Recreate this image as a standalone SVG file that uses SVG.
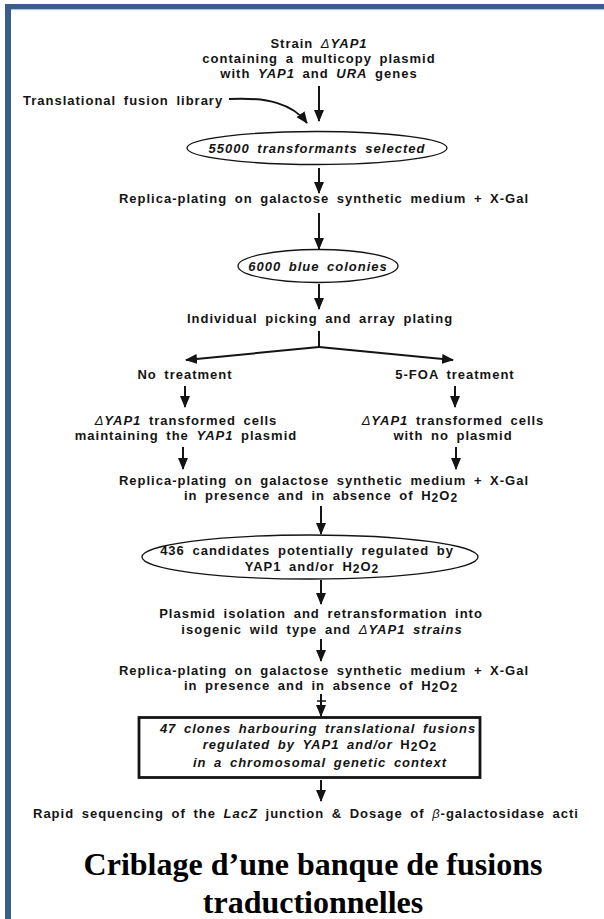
<svg xmlns="http://www.w3.org/2000/svg" width="604" height="919" viewBox="0 0 604 919">
<style>
.t{font-family:"Liberation Sans",Arial,sans-serif;font-weight:bold;font-size:13px;letter-spacing:1px;word-spacing:3px;fill:#141414;text-anchor:middle}
.i{font-style:italic}
.d{font-weight:normal;font-style:italic}
.ln{stroke:#141414;stroke-width:2;fill:none}
.sh{fill:none;stroke:#141414;stroke-width:1.3}
.title{font-family:"Liberation Serif","Times New Roman",serif;font-weight:bold;font-size:32px;fill:#000;text-anchor:middle}
</style>
<defs>
<marker id="ah" viewBox="0 0 12 10" refX="11" refY="5" markerWidth="12" markerHeight="10" markerUnits="userSpaceOnUse" orient="auto">
<path d="M0,0 L12,5 L0,10 z" fill="#141414"/>
</marker>
</defs>
<rect width="604" height="919" fill="#fff"/>
<g id="frame">
<rect x="5" y="4" width="599" height="5" fill="#3b5d8c"/>
<rect x="5" y="4" width="6" height="915" fill="#3b5d8c"/>
<rect x="11" y="9" width="593" height="1.2" fill="#b4c6de"/>
</g>
<g id="connectors">
<path class="ln" d="M319,86 V121" marker-end="url(#ah)"/>
<path class="ln" d="M229,99 C268,97 293,104 307,123" marker-end="url(#ah)"/>
<path class="ln" d="M319,168 V193" marker-end="url(#ah)"/>
<path class="ln" d="M319,213 V249" marker-end="url(#ah)"/>
<path class="ln" d="M319,284 V309" marker-end="url(#ah)"/>
<path class="ln" d="M319,331 V347"/>
<path class="ln" d="M319,347 L186,360" marker-end="url(#ah)"/>
<path class="ln" d="M319,347 L453,360" marker-end="url(#ah)"/>
<path class="ln" d="M185,386 V407" marker-end="url(#ah)"/>
<path class="ln" d="M455,386 V407" marker-end="url(#ah)"/>
<path class="ln" d="M183,447 V469" marker-end="url(#ah)"/>
<path class="ln" d="M456,447 V469" marker-end="url(#ah)"/>
<path class="ln" d="M321,506 V534" marker-end="url(#ah)"/>
<path class="ln" d="M321,580 V604" marker-end="url(#ah)"/>
<path class="ln" d="M321,639 V661" marker-end="url(#ah)"/>
<path class="ln" d="M321,694 V716" marker-end="url(#ah)"/>
<path d="M317,701 H326" stroke="#141414" stroke-width="1.5"/>
<path class="ln" d="M321,780 V801" marker-end="url(#ah)"/>
</g>
<g id="start">
<text class="t" x="319" y="48">Strain <tspan class="d">Δ</tspan><tspan class="i">YAP1</tspan></text>
<text class="t" x="319" y="63">containing a multicopy plasmid</text>
<text class="t" x="319" y="78">with <tspan class="i">YAP1</tspan> and <tspan class="i">URA</tspan> genes</text>
</g>
<g id="library">
<text class="t" x="23" y="105" style="text-anchor:start">Translational fusion library</text>
</g>
<g id="transformants">
<ellipse class="sh" cx="317" cy="148" rx="130" ry="16.5"/>
<text class="t i" x="317" y="153">55000 transformants selected</text>
</g>
<g id="replica1">
<text class="t" x="324" y="203">Replica-plating on galactose synthetic medium + X-Gal</text>
</g>
<g id="blue">
<ellipse class="sh" cx="318" cy="266" rx="80" ry="16.5"/>
<text class="t i" x="318" y="271">6000 blue colonies</text>
</g>
<g id="picking">
<text class="t" x="320" y="323">Individual picking and array plating</text>
</g>
<g id="notreat">
<text class="t" x="185" y="379">No treatment</text>
</g>
<g id="foa">
<text class="t" x="455" y="379">5-FOA treatment</text>
</g>
<g id="maintain">
<text class="t" x="186" y="425"><tspan class="d">Δ</tspan><tspan class="i">YAP1</tspan> transformed cells</text>
<text class="t" x="186" y="440">maintaining the <tspan class="i">YAP1</tspan> plasmid</text>
</g>
<g id="noplasmid">
<text class="t" x="453" y="425"><tspan class="d">Δ</tspan><tspan class="i">YAP1</tspan> transformed cells</text>
<text class="t" x="453" y="440">with no plasmid</text>
</g>
<g id="replica2">
<text class="t" x="324" y="485">Replica-plating on galactose synthetic medium + X-Gal</text>
<text class="t" x="321" y="500">in presence and in absence of H<tspan dy="2" font-size="12">2</tspan><tspan dy="-2">O</tspan><tspan dy="2" font-size="12">2</tspan></text>
</g>
<g id="candidates">
<ellipse class="sh" cx="310" cy="557" rx="168" ry="22"/>
<text class="t" x="307" y="555">436 candidates potentially regulated by</text>
<text class="t" x="312" y="571">YAP1 and/or H<tspan dy="2" font-size="12">2</tspan><tspan dy="-2">O</tspan><tspan dy="2" font-size="12">2</tspan></text>
</g>
<g id="isolation">
<text class="t" x="321" y="618">Plasmid isolation and retransformation into</text>
<text class="t" x="322" y="634">isogenic wild type and <tspan class="d">Δ</tspan><tspan class="i">YAP1</tspan> <tspan class="i">strains</tspan></text>
</g>
<g id="replica3">
<text class="t" x="324" y="675">Replica-plating on galactose synthetic medium + X-Gal</text>
<text class="t" x="321" y="690">in presence and in absence of H<tspan dy="2" font-size="12">2</tspan><tspan dy="-2">O</tspan><tspan dy="2" font-size="12">2</tspan></text>
</g>
<g id="clones">
<rect x="139" y="717.5" width="341" height="60" fill="none" stroke="#141414" stroke-width="2.8"/>
<text class="t i" x="318" y="733">47 clones harbouring translational fusions</text>
<text class="t" x="320" y="749"><tspan class="i">regulated by YAP1 and/or </tspan>H<tspan dy="2" font-size="12">2</tspan><tspan dy="-2">O</tspan><tspan dy="2" font-size="12">2</tspan></text>
<text class="t i" x="320" y="767">in a chromosomal genetic context</text>
</g>
<g id="sequencing">
<text class="t" x="33" y="818" style="text-anchor:start">Rapid sequencing of the <tspan class="i">LacZ</tspan> junction &amp; Dosage of <tspan class="d">β</tspan>-galactosidase acti</text>
</g>
<g id="title">
<text class="title" x="313" y="875">Criblage d’une banque de fusions</text>
<text class="title" x="313" y="913">traductionnelles</text>
</g>
</svg>
